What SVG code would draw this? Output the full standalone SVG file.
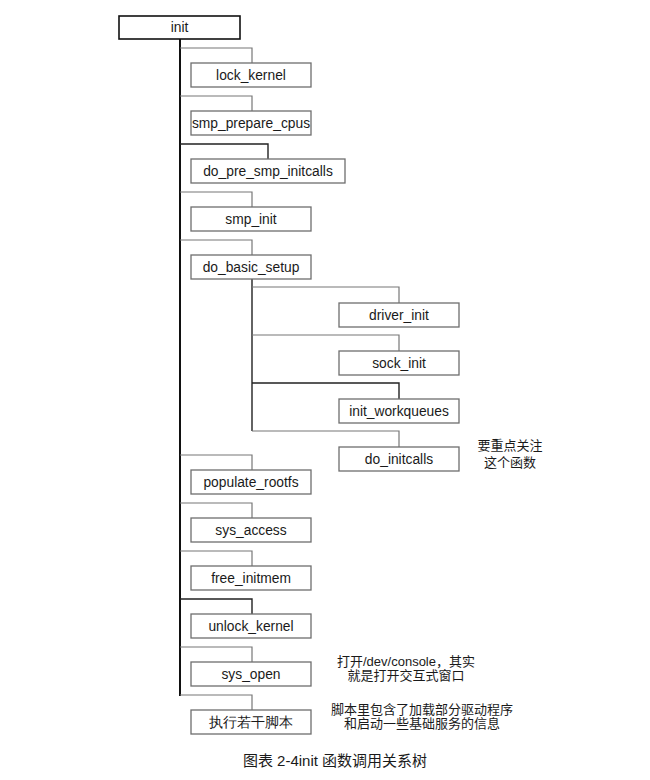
<svg xmlns="http://www.w3.org/2000/svg" width="650" height="780" viewBox="0 0 650 780">
<style>
.box{fill:#fff;stroke:#6e6e6e;stroke-width:1.3}
.root{fill:#fff;stroke:#111;stroke-width:1.6}
.t{font-family:"Liberation Sans",Arial,sans-serif;font-size:13.8px;fill:#1a1a1a;text-anchor:middle;dominant-baseline:central}
.n{font-family:"Liberation Sans","Noto Sans CJK SC",sans-serif;font-size:13px;fill:#1a1a1a;text-anchor:middle}
.main{fill:none;stroke:#111;stroke-width:2}
.br{fill:none;stroke:#777;stroke-width:1.2}
.bk{fill:none;stroke:#222;stroke-width:1.4}
</style>
<rect width="650" height="780" fill="#fff"/>
<g id="connectors">
<line class="main" x1="180" y1="39" x2="180" y2="696"/>
<polyline class="br" points="180,48 252,48 252,63"/>
<polyline class="br" points="180,96 252,96 252,111"/>
<polyline class="bk" points="180,144 268,144 268,159"/>
<polyline class="br" points="180,192 252,192 252,207"/>
<polyline class="br" points="180,240 252,240 252,255"/>
<line class="bk" x1="252" y1="279" x2="252" y2="431"/>
<polyline class="br" points="252,287 399,287 399,303"/>
<polyline class="br" points="252,335 399,335 399,351"/>
<polyline class="bk" points="252,383 399,383 399,399"/>
<polyline class="br" points="252,431 399,431 399,447"/>
<polyline class="br" points="180,455 252,455 252,470"/>
<polyline class="br" points="180,503 252,503 252,518"/>
<polyline class="br" points="180,551 252,551 252,566"/>
<polyline class="bk" points="180,599 252,599 252,614"/>
<polyline class="br" points="180,647 252,647 252,662"/>
<polyline class="br" points="180,695 252,695 252,710"/>
</g>
<g id="init"><rect class="root" x="119" y="16" width="121" height="23"/><text class="t" x="179.5" y="27.5">init</text></g>
<g id="lock_kernel"><rect class="box" x="191" y="63" width="120" height="24"/><text class="t" x="251" y="75.5">lock_kernel</text></g>
<g id="smp_prepare_cpus"><rect class="box" x="191" y="111" width="120" height="24"/><text class="t" x="251" y="123.5">smp_prepare_cpus</text></g>
<g id="do_pre_smp_initcalls"><rect class="box" x="191" y="159" width="154" height="24"/><text class="t" x="268" y="171.5">do_pre_smp_initcalls</text></g>
<g id="smp_init"><rect class="box" x="191" y="207" width="120" height="24"/><text class="t" x="251" y="219.5">smp_init</text></g>
<g id="do_basic_setup"><rect class="box" x="191" y="255" width="120" height="24"/><text class="t" x="251" y="267.5">do_basic_setup</text></g>
<g id="driver_init"><rect class="box" x="339" y="303" width="120" height="24"/><text class="t" x="399" y="315.5">driver_init</text></g>
<g id="sock_init"><rect class="box" x="339" y="351" width="120" height="24"/><text class="t" x="399" y="363.5">sock_init</text></g>
<g id="init_workqueues"><rect class="box" x="339" y="399" width="120" height="24"/><text class="t" x="399" y="411.5">init_workqueues</text></g>
<g id="do_initcalls"><rect class="box" x="339" y="447" width="120" height="24"/><text class="t" x="399" y="459.5">do_initcalls</text></g>
<g id="populate_rootfs"><rect class="box" x="191" y="470" width="120" height="24"/><text class="t" x="251" y="482.5">populate_rootfs</text></g>
<g id="sys_access"><rect class="box" x="191" y="518" width="120" height="24"/><text class="t" x="251" y="530.5">sys_access</text></g>
<g id="free_initmem"><rect class="box" x="191" y="566" width="120" height="24"/><text class="t" x="251" y="578.5">free_initmem</text></g>
<g id="unlock_kernel"><rect class="box" x="191" y="614" width="120" height="24"/><text class="t" x="251" y="626.5">unlock_kernel</text></g>
<g id="sys_open"><rect class="box" x="191" y="662" width="120" height="24"/><text class="t" x="251" y="674.5">sys_open</text></g>
<g id="scripts"><rect class="box" x="191" y="710" width="120" height="24"/><text class="t" x="251" y="722.5" font-family="'Liberation Sans','Noto Sans CJK SC',sans-serif">执行若干脚本</text></g>
<g id="notes">
<text class="n" x="510" y="450">要重点关注</text>
<text class="n" x="510" y="467">这个函数</text>
<text class="n" x="406" y="666">打开/dev/console，其实</text>
<text class="n" x="406" y="680">就是打开交互式窗口</text>
<text class="n" x="422" y="714">脚本里包含了加载部分驱动程序</text>
<text class="n" x="422" y="728">和启动一些基础服务的信息</text>
<text class="n" x="335" y="766" style="font-size:15px">图表 2-4init 函数调用关系树</text>
</g>
</svg>
